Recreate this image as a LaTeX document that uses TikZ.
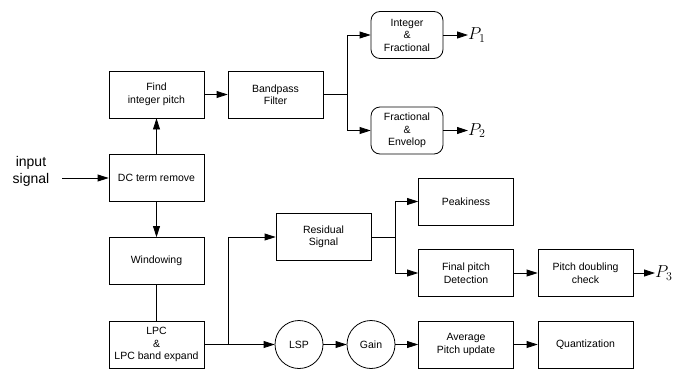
\documentclass[tikz,border=0pt]{standalone}
\usepackage{fontspec}
\setsansfont{Liberation Sans}
\usetikzlibrary{arrows.meta}
\begin{document}
\begin{tikzpicture}[x=1pt,y=-1pt,
  every node/.style={font=\sffamily\fontsize{10.5}{12.5}\selectfont, align=center, inner sep=0pt},
  blk/.style={draw, line width=0.8pt, minimum width=95pt, minimum height=47pt},
  rblk/.style={draw, line width=0.8pt, rounded corners=9pt, minimum width=72pt, minimum height=47pt},
  circ/.style={draw, circle, line width=0.8pt, minimum size=48pt},
  ln/.style={line width=0.8pt},
  arr/.style={line width=0.8pt, -{Triangle[length=11pt,width=7pt]}},
  plab/.style={font=\fontsize{17}{17}\selectfont, anchor=west}]
\useasboundingbox (0,0) rectangle (687,372);
\node[blk] (find) at (156.5,94.5) {Find\\integer pitch};
\node[blk] (bp) at (275.5,94.5) {Bandpass\\Filter};
\node[rblk] (intf) at (407,35) {Integer\\\&\\Fractional};
\node[rblk] (frae) at (407,130.5) {Fractional\\\&\\Envelop};
\node[blk] (dc) at (156.5,178) {DC term remove};
\node[blk] (win) at (156.5,261) {Windowing};
\node[blk] (lpc) at (156.5,344.5) {LPC\\\&\\LPC band expand};
\node[blk] (res) at (323.5,237) {Residual\\Signal};
\node[blk] (peak) at (466,201.5) {Peakiness};
\node[blk] (fpd) at (466,273) {Final pitch\\Detection};
\node[blk] (pdc) at (585.5,273) {Pitch doubling\\check};
\node[circ] (lsp) at (299,344.5) {LSP};
\node[circ] (gain) at (371,344.5) {Gain};
\node[blk] (apu) at (466,344.5) {Average\\Pitch update};
\node[blk] (quant) at (585.5,344.5) {Quantization};
\node[font=\sffamily\fontsize{14}{17}\selectfont] (inp) at (31,171) {input\\signal};
\coordinate (instart) at (62,178);
\node[plab] (p1) at (468,35) {$P_1$};
\node[plab] (p2) at (468,130.5) {$P_2$};
\node[plab] (p3) at (655,273) {$P_3$};
\coordinate (j1) at (347,94.5);
\coordinate (j2) at (228,344.5);
\coordinate (j3) at (395,237);
% connectors
\draw[arr] (instart) -- (dc.west);
\draw[arr] (dc.north) -- (find.south);
\draw[arr] (dc.south) -- (win.north);
\draw[ln] (win.south) -- (lpc.north);
\draw[arr] (find.east) -- (bp.west);
\draw[ln] (bp.east) -- (j1);
\draw[arr] (j1) |- (intf.west);
\draw[arr] (j1) |- (frae.west);
\draw[arr] (intf.east) -- (p1.west);
\draw[arr] (frae.east) -- (p2.west);
\draw[arr] (lpc.east) -- (lsp.west);
\draw[arr] (j2) |- (res.west);
\draw[arr] (lsp.east) -- (gain.west);
\draw[arr] (gain.east) -- (apu.west);
\draw[arr] (apu.east) -- (quant.west);
\draw[ln] (res.east) -- (j3);
\draw[arr] (j3) |- (peak.west);
\draw[arr] (j3) |- (fpd.west);
\draw[arr] (fpd.east) -- (pdc.west);
\draw[arr] (pdc.east) -- (p3.west);
\end{tikzpicture}
\end{document}
